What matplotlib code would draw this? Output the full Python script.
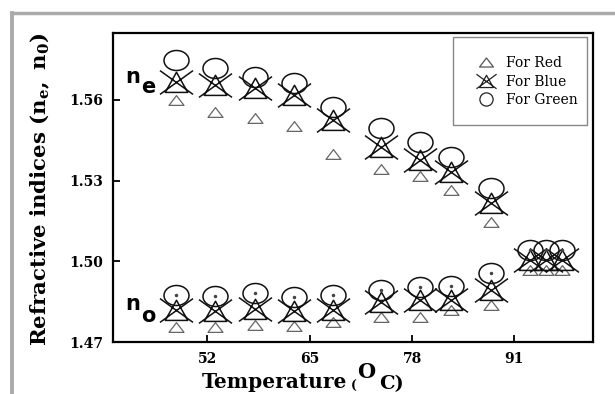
import matplotlib
matplotlib.use("Agg")
import matplotlib.pyplot as plt
from matplotlib.path import Path
from matplotlib.lines import Line2D
from matplotlib.patches import Rectangle

# ---------------- data ----------------
temps = [48, 53, 58, 63, 68, 74, 79, 83, 88, 93, 95, 97]
ne_temps = temps[:9]
ne_red = [1.5600, 1.5556, 1.5532, 1.5503, 1.5399, 1.5343, 1.5318, 1.5265, 1.5147]
ne_blue = [1.5668, 1.5656, 1.5643, 1.5619, 1.5526, 1.5426, 1.5377, 1.5333, 1.5217]
ne_green = [1.5749, 1.5718, 1.5687, 1.5662, 1.5575, 1.5495, 1.5445, 1.5389, 1.5272]
no_red = [1.4756, 1.4756, 1.4763, 1.4760, 1.4774, 1.4794, 1.4794, 1.4819, 1.4838, 1.4968, 1.4968, 1.4968]
no_blue = [1.4819, 1.4815, 1.4823, 1.4815, 1.4819, 1.4850, 1.4856, 1.4856, 1.4893, 1.5005, 1.5005, 1.5005]
no_green = [1.4875, 1.4871, 1.4881, 1.4868, 1.4875, 1.4893, 1.4906, 1.4908, 1.4955, 1.5042, 1.5042, 1.5042]

xticks = [52, 65, 78, 91]
yticks = [1.47, 1.50, 1.53, 1.56]
ytick_labels = ["1.47", "1.50", "1.53", "1.56"]
legend_labels = ["For Red", "For Blue", "For Green"]

# ---------------- style ----------------
W, H = 615, 394
plt.rcParams['mathtext.fontset'] = 'custom'
plt.rcParams['mathtext.bf'] = 'DejaVu Serif:bold'
plt.rcParams['mathtext.rm'] = 'DejaVu Serif:bold'
plt.rcParams['mathtext.it'] = 'DejaVu Serif:bold'

M, L, C = Path.MOVETO, Path.LINETO, Path.CLOSEPOLY
tri = Path([(-1, -0.65), (1, -0.65), (0, 0.65), (-1, -0.65)], [M, L, L, C])
blue_mk = Path([(-1, 0.72), (1, -0.72), (-1, -0.72), (1, 0.72),
                (-0.68, -0.6), (0.68, -0.6), (0, 0.62), (-0.68, -0.6)],
               [M, L, M, L, M, L, L, C])
uc = Path.unit_circle()
ell = Path(uc.vertices * [1, 0.8], uc.codes)

fig = plt.figure(figsize=(6.15, 3.94), dpi=100)
ax = fig.add_axes([113 / W, 1 - 342 / H, 480 / W, 309 / H])
ax.set_xlim(40, 101)
ax.set_ylim(1.47, 1.5849)

red_kw = dict(ls='none', marker=tri, ms=10.8, mfc='none', mec='#666666', mew=0.9)
blue_kw = dict(ls='none', marker=blue_mk, ms=23.8, mfc='none', mec='#111111', mew=1.1)
green_kw = dict(ls='none', marker=ell, ms=18, mfc='none', mec='#111111', mew=1.1)

ax.plot(ne_temps, ne_red, **red_kw)
ax.plot(temps, no_red, **red_kw)
ax.plot(ne_temps, ne_blue, **blue_kw)
ax.plot(temps, no_blue, **blue_kw)
ax.plot(ne_temps, ne_green, **green_kw)
ax.plot(temps, no_green, **green_kw)
ax.plot(temps, no_green, ls='none', marker='o', ms=1.5, color='#444444')

ax.set_xticks(xticks)
ax.set_yticks(yticks)
ax.set_yticklabels(ytick_labels)
ax.tick_params(direction='in', length=5, width=1.3, labelsize=10)
ax.tick_params(axis='y', pad=7)
ax.tick_params(axis='x', pad=7)
for lab in ax.get_xticklabels() + ax.get_yticklabels():
    lab.set_fontfamily('DejaVu Serif')
    lab.set_fontweight('bold')
for sp in ax.spines.values():
    sp.set_linewidth(1.6)

# legend (entries) + separate frame box
h_red = Line2D([], [], ls='none', marker=tri, ms=10, mfc='none', mec='#555555', mew=0.9)
h_blue = Line2D([], [], ls='none', marker=blue_mk, ms=14.5, mfc='none', mec='#222222', mew=0.9)
h_green = Line2D([], [], ls='none', marker='o', ms=9.5, mfc='none', mec='#222222', mew=0.9)
leg = ax.legend([h_red, h_blue, h_green], legend_labels, loc='upper left',
                bbox_to_anchor=(472 / W, 1 - 56 / H), bbox_transform=fig.transFigure,
                borderaxespad=0, borderpad=0, frameon=False,
                prop=dict(family='DejaVu Serif', size=10),
                labelspacing=0.33, handlelength=2.0, handletextpad=0.45)
fig.add_artist(Rectangle((453 / W, 1 - 125 / H), (587 - 453) / W, (125 - 37) / H,
                         transform=fig.transFigure, fill=False, edgecolor='#888888', lw=1.0))


def ptxt(x, y, s, **kw):
    return fig.text(x / W, 1 - y / H, s, **kw)


# axis labels
ptxt(40, 189, r"Refractive indices $\mathbf{(n_e,\ n_0)}$", rotation=90, ha='center',
     va='center', fontsize=15.3, fontfamily='DejaVu Serif', fontweight='bold')
ptxt(347, 388, "Temperature", ha='right', va='baseline', fontsize=14.5,
     fontfamily='DejaVu Serif', fontweight='bold')
ptxt(351, 390, "(", ha='left', va='baseline', fontsize=9,
     fontfamily='DejaVu Serif', fontweight='bold')
ptxt(357, 378, "O", ha='left', va='baseline', fontsize=15,
     fontfamily='DejaVu Serif', fontweight='bold')
ptxt(379, 389, "C)", ha='left', va='baseline', fontsize=14,
     fontfamily='DejaVu Serif', fontweight='bold')

# branch labels
ptxt(125, 83, "n", ha='left', va='baseline', fontsize=15, fontfamily='DejaVu Sans', fontweight='bold')
ptxt(141, 93, "e", ha='left', va='baseline', fontsize=15, fontfamily='DejaVu Sans', fontweight='bold')
ptxt(125, 310, "n", ha='left', va='baseline', fontsize=15, fontfamily='DejaVu Sans', fontweight='bold')
ptxt(141, 322, "o", ha='left', va='baseline', fontsize=15, fontfamily='DejaVu Sans', fontweight='bold')

# outer gray frame
fig.add_artist(Line2D([12 / W, 1], [1 - 13 / H, 1 - 13 / H], transform=fig.transFigure,
                      color='#aaaaaa', lw=2.5))
fig.add_artist(Line2D([12 / W, 12 / W], [0, 1 - 13 / H], transform=fig.transFigure,
                      color='#aaaaaa', lw=2.8))

fig.savefig("out.png", dpi=100)
